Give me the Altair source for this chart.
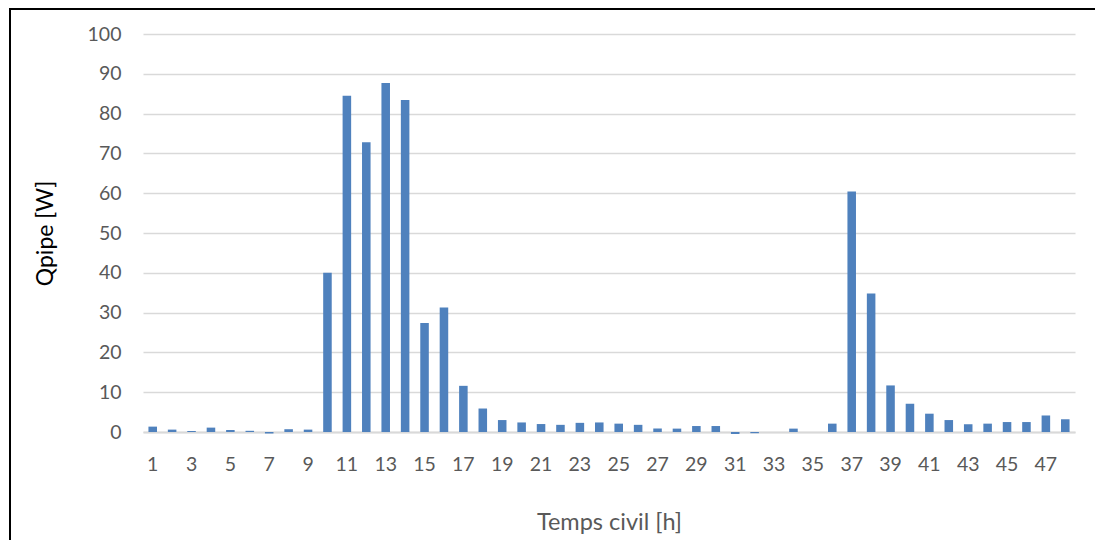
import altair as alt
import pandas as pd

hours = list(range(1, 49))
qpipe = [1.35, 0.6, 0.25, 1.1, 0.5, 0.3, -0.4, 0.7, 0.6, 40.0,
         84.5, 72.8, 87.7, 83.4, 27.4, 31.3, 11.6, 5.9, 3.0, 2.4,
         2.0, 1.8, 2.3, 2.4, 2.1, 1.8, 0.85, 0.85, 1.5, 1.5,
         -0.5, -0.3, 0.0, 0.85, 0.0, 2.1, 60.4, 34.8, 11.7, 7.1,
         4.6, 3.0, 1.95, 2.1, 2.5, 2.5, 4.15, 3.2]
tick_values = list(range(1, 48, 2))

df = pd.DataFrame({"h": hours, "q": qpipe})

FONT = "Lato"
GRAY = "#595959"

bars = alt.Chart(df).mark_bar(color="#4f81bd", clip=False).encode(
    x=alt.X("h:O",
            scale=alt.Scale(paddingInner=0.56, paddingOuter=0.28),
            axis=alt.Axis(title="Temps civil [h]", values=tick_values, labelAngle=0,
                          labelFont=FONT, labelFontSize=19.5, labelColor=GRAY,
                          labelPadding=23, ticks=False,
                          domainColor="#d9d9d9", domainWidth=2,
                          titleFont=FONT, titleFontSize=23.5, titleColor=GRAY,
                          titleFontWeight="normal", titlePadding=37)),
    y=alt.Y("q:Q",
            scale=alt.Scale(domain=[0, 100], nice=False, zero=True),
            axis=alt.Axis(title="Qpipe [W]", values=list(range(0, 101, 10)),
                          labelFont=FONT, labelFontSize=19.5, labelColor=GRAY,
                          labelPadding=22, ticks=False, domain=False,
                          gridColor="#d9d9d9", gridWidth=1.5,
                          titleFont=FONT, titleFontSize=23, titleColor="#000000",
                          titleFontWeight="normal", titlePadding=30)),
)

top_border = alt.Chart(df).mark_rule(color="#000000", strokeWidth=2, clip=False).encode(
    x=alt.value(-133), x2=alt.value(960), y=alt.value(-25)
)
left_border = alt.Chart(df).mark_rule(color="#000000", strokeWidth=2, clip=False).encode(
    x=alt.value(-133), y=alt.value(-26), y2=alt.value(520)
)

chart = alt.layer(bars, top_border, left_border).properties(
    width=932, height=398,
    padding={"left": 135, "top": 26, "right": 20, "bottom": 108},
    autosize=alt.AutoSizeParams(type="none"),
).configure_view(stroke=None)

chart.save("out.html", embed_options={"renderer": "svg", "actions": False})
